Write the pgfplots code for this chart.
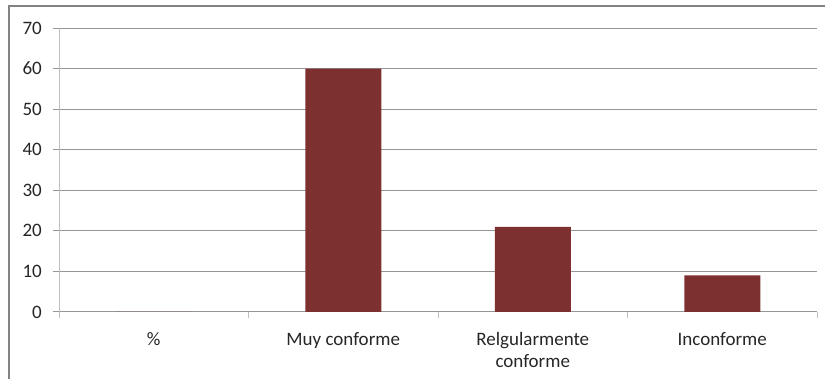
\documentclass[border=0pt]{standalone}
\usepackage{pgfplots}
\pgfplotsset{compat=1.18}
\usepackage{fontspec}
\setmainfont{Carlito}
\definecolor{barred}{RGB}{124,48,47}
\definecolor{gridgray}{RGB}{150,150,150}
\definecolor{axisgray}{RGB}{190,190,190}
\definecolor{framegray}{RGB}{130,130,130}
\begin{document}
\begin{tikzpicture}[x=1pt,y=1pt]
\useasboundingbox (0,0) rectangle (825,379);
\draw[framegray, line width=2pt] (9,0) -- (9,373) -- (825,373);
\begin{axis}[
  at={(59pt,67pt)}, anchor=south west,
  scale only axis, width=758pt, height=284pt,
  xmin=-0.5, xmax=3.5, ymin=0, ymax=70,
  axis x line=bottom, axis y line=left,
  axis line style={-, axisgray, line width=1pt},
  x axis line style={gridgray},
  xtick={0,1,2,3},
  xticklabels={\%, Muy conforme, {Relgularmente\\conforme}, Inconforme},
  major x tick style={draw=none},
  minor xtick={-0.5,0.5,1.5,2.5,3.5},
  minor tick length=6pt,
  minor x tick style={axisgray, line width=1pt},
  ytick={0,10,...,70},
  tick align=outside,
  major tick length=6pt,
  y tick style={gridgray, line width=1pt},
  ymajorgrids,
  major grid style={gridgray, line width=1pt},
  tick label style={font=\fontsize{19}{22}\selectfont, text=black!85},
  yticklabel style={inner sep=0pt, xshift=-11pt},
  xticklabel style={align=center, inner sep=0pt, yshift=-14pt},
  /pgf/number format/assume math mode=true,
  clip=false,
]
\addplot[ybar, bar width=76pt, fill=barred, draw=none] coordinates {(0,0) (1,60) (2,21) (3,9)};
\end{axis}
\end{tikzpicture}
\end{document}
